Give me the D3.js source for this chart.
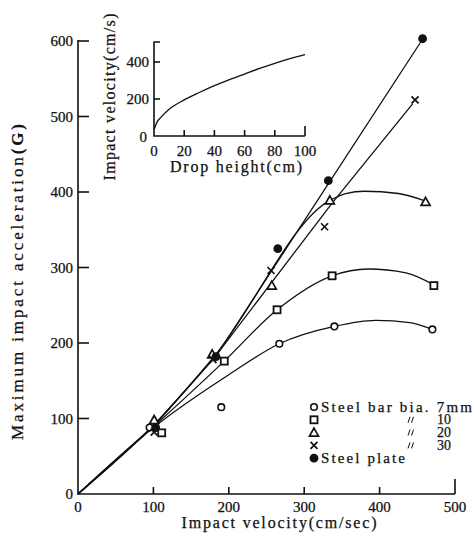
<!DOCTYPE html>
<html lang="en">
<head>
<meta charset="UTF-8">
<title>Maximum impact acceleration vs impact velocity</title>
<script src="https://d3js.org/d3.v7.min.js"></script>
<style>
    body { margin: 0; background: #fff; }
    svg text { font-family: "Liberation Serif", "DejaVu Serif", serif; fill: #111; stroke: #111; stroke-width: 0.25; }
    .axis-line { stroke: #111; stroke-width: 1.6; fill: none; }
    .fit { stroke: #111; stroke-width: 1.3; fill: none; }
</style>
</head>
<body>
<svg width="474" height="544"></svg>
<script>
    // main chart ticks
    const xTicks = [0, 100, 200, 300, 400, 500];
    const yTicks = [0, 100, 200, 300, 400, 500, 600];

    // measured points [velocity cm/s, acceleration G]
    const bar7 = [[95, 88], [190, 115], [267, 199], [340, 222], [470, 218]];
    const bar10 = [[111, 81], [194, 176], [264, 244], [337, 289], [472, 276]];
    const bar20 = [[101, 98], [178, 185], [257, 276], [334, 389], [461, 387]];
    const bar30 = [[101, 82], [179, 178], [256, 296], [327, 354], [447, 522]];
    const plate = [[103, 88], [183, 182], [265, 325], [332, 415], [457, 603]];

    // hand drawn fitting lines
    const fit7 = [[0, 0], [100, 88], [200, 158], [267, 199], [340, 222], [395, 230], [440, 227], [470, 218]];
    const fit10 = [[0, 0], [100, 89], [194, 176], [264, 244], [337, 289], [385, 298], [435, 293], [472, 277]];
    const fit20 = [[0, 0], [100, 91], [182, 184], [334, 389], [355, 398], [380, 401], [425, 398], [461, 388]];
    const fit30 = [[0, 0], [100, 90], [182, 182], [336, 384], [444, 517]];
    const fitPlate = [[0, 0], [100, 89], [184, 184], [458, 604]];

    // inset: drop height (cm) vs impact velocity (cm/s)
    const dropH = [0, 1, 2, 5, 10, 20, 30, 40, 50, 60, 70, 80, 90, 100];
    const dropV = [35, 55, 75, 105, 145, 195, 235, 272, 305, 335, 365, 393, 418, 440];
    const insetXTicks = [0, 20, 40, 60, 80, 100];
    const insetYTicks = [0, 200, 400];

    const legendRows = [
        { mark: "circle", label: "Steel bar bia. 7mm", num: "" },
        { mark: "square", label: "", num: "10" },
        { mark: "triangle", label: "", num: "20" },
        { mark: "cross", label: "", num: "30" },
        { mark: "dot", label: "Steel plate", num: "" }
    ];

    const svg = d3.select("svg");

    const x = d3.scaleLinear().domain([0, 500]).range([78, 455]);
    const y = d3.scaleLinear().domain([0, 600]).range([494, 41]);

    // axes (ticks point inward like the original)
    svg.append("path").attr("class", "axis-line")
        .attr("d", `M${x(0)},${y(600) - 1}V${y(0)}H${x(500)}`);

    svg.append("g").selectAll("line").data(yTicks.slice(1)).enter().append("line")
        .attr("class", "axis-line")
        .attr("x1", x(0)).attr("x2", x(0) + 11)
        .attr("y1", d => y(d)).attr("y2", d => y(d));

    svg.append("g").selectAll("line").data(xTicks.slice(1)).enter().append("line")
        .attr("class", "axis-line")
        .attr("x1", d => x(d)).attr("x2", d => x(d))
        .attr("y1", y(0)).attr("y2", d => d === 500 ? y(0) - 15 : y(0) - 7);

    svg.append("g").selectAll("text").data(yTicks).enter().append("text")
        .attr("x", x(0) - 5)
        .attr("y", d => y(d) + 5)
        .attr("text-anchor", "end")
        .style("font-size", "15px")
        .text(d => d);

    svg.append("g").selectAll("text").data(xTicks).enter().append("text")
        .attr("x", d => x(d))
        .attr("y", 512)
        .attr("text-anchor", "middle")
        .style("font-size", "15px")
        .text(d => d);

    svg.append("text")
        .attr("x", 279).attr("y", 528)
        .attr("text-anchor", "middle")
        .attr("textLength", 195).attr("lengthAdjust", "spacing")
        .style("font-size", "16px")
        .text("Impact velocity(cm/sec)");

    const yLab = svg.append("text")
        .attr("transform", "translate(23,282) rotate(-90)")
        .attr("text-anchor", "middle")
        .attr("textLength", 316).attr("lengthAdjust", "spacing")
        .style("font-size", "17px");
    yLab.append("tspan").text("Maximum impact acceleration");
    yLab.append("tspan").style("font-weight", "bold").text("(G)");

    // fitting curves
    const line = d3.line().x(d => x(d[0])).y(d => y(d[1]));
    const smooth = d3.line().x(d => x(d[0])).y(d => y(d[1])).curve(d3.curveMonotoneX);

    svg.append("path").attr("class", "fit").attr("d", smooth(fit7));
    svg.append("path").attr("class", "fit").attr("d", smooth(fit10));
    svg.append("path").attr("class", "fit").attr("d", smooth(fit20));
    svg.append("path").attr("class", "fit").attr("d", line(fit30));
    svg.append("path").attr("class", "fit").attr("d", line(fitPlate));

    // markers
    function drawMark(g, type, cx, cy) {
        if (type === "circle") {
            g.append("circle").attr("cx", cx).attr("cy", cy).attr("r", 3.3)
                .attr("fill", "#fff").attr("stroke", "#111").attr("stroke-width", 1.6);
        } else if (type === "square") {
            g.append("rect").attr("x", cx - 3.5).attr("y", cy - 3.5).attr("width", 7).attr("height", 7)
                .attr("fill", "#fff").attr("stroke", "#111").attr("stroke-width", 1.8);
        } else if (type === "triangle") {
            g.append("path").attr("d", `M${cx},${cy - 4.5}L${cx + 4.5},${cy + 3.5}L${cx - 4.5},${cy + 3.5}Z`)
                .attr("fill", "#fff").attr("stroke", "#111").attr("stroke-width", 1.7);
        } else if (type === "cross") {
            g.append("path").attr("d", `M${cx - 3.5},${cy - 3.5}L${cx + 3.5},${cy + 3.5}M${cx + 3.5},${cy - 3.5}L${cx - 3.5},${cy + 3.5}`)
                .attr("fill", "none").attr("stroke", "#111").attr("stroke-width", 1.7);
        } else {
            g.append("circle").attr("cx", cx).attr("cy", cy).attr("r", 4.4).attr("fill", "#111");
        }
    }

    const marks = svg.append("g");
    [[bar7, "circle"], [bar10, "square"], [bar20, "triangle"], [bar30, "cross"], [plate, "dot"]]
        .forEach(([pts, type]) => pts.forEach(p => drawMark(marks, type, x(p[0]), y(p[1]))));

    // legend
    const leg = svg.append("g");
    legendRows.forEach((r, i) => {
        const ly = 407 + i * 12.8;
        drawMark(leg, r.mark, 314, ly);
        if (r.num === "") {
            leg.append("text").attr("x", 321).attr("y", ly + 5)
                .attr("textLength", r.mark === "circle" ? 151 : 84).attr("lengthAdjust", "spacing")
                .style("font-size", "15px").text(r.label);
        } else {
            // ditto mark
            leg.append("path")
                .attr("d", `M${408},${ly + 3}L${410},${ly - 3}M${411.5},${ly + 3}L${413.5},${ly - 3}`)
                .attr("stroke", "#111").attr("stroke-width", 1);
            leg.append("text").attr("x", 437).attr("y", ly + 4.5)
                .style("font-size", "14px").text(r.num);
        }
    });

    // inset
    const ix = d3.scaleLinear().domain([0, 100]).range([154, 305]);
    const iy = d3.scaleLinear().domain([0, 400]).range([136, 62]);
    const inset = svg.append("g");

    inset.append("path").attr("class", "axis-line")
        .attr("d", `M${ix(0) + 6},${iy(508)}H${ix(0)}V${iy(0)}H${ix(100)}`);
    inset.selectAll(".yt").data(insetYTicks.slice(1)).enter().append("line")
        .attr("class", "axis-line")
        .attr("x1", ix(0)).attr("x2", ix(0) + 6)
        .attr("y1", d => iy(d)).attr("y2", d => iy(d));
    inset.selectAll(".xt").data(insetXTicks.slice(1)).enter().append("line")
        .attr("class", "axis-line")
        .attr("x1", d => ix(d)).attr("x2", d => ix(d))
        .attr("y1", iy(0)).attr("y2", d => d === 100 ? iy(0) - 10 : iy(0) - 6);

    inset.selectAll(".yl").data(insetYTicks).enter().append("text")
        .attr("x", d => d === 0 ? 147 : 149)
        .attr("y", d => d === 0 ? iy(d) + 6 : iy(d) + 5)
        .attr("text-anchor", "end")
        .style("font-size", "15px")
        .text(d => d);
    inset.selectAll(".xl").data(insetXTicks).enter().append("text")
        .attr("x", d => ix(d))
        .attr("y", 156)
        .attr("text-anchor", "middle")
        .style("font-size", "15px")
        .text(d => d);

    inset.append("text")
        .attr("x", 236).attr("y", 172)
        .attr("text-anchor", "middle")
        .attr("textLength", 132).attr("lengthAdjust", "spacing")
        .style("font-size", "16px")
        .text("Drop height(cm)");
    inset.append("text")
        .attr("transform", "translate(115,97) rotate(-90)")
        .attr("text-anchor", "middle")
        .attr("textLength", 167).attr("lengthAdjust", "spacing")
        .style("font-size", "16px")
        .text("Impact velocity(cm/s)");

    const insetLine = d3.line().x((d, i) => ix(dropH[i])).y(d => iy(d)).curve(d3.curveMonotoneX);
    inset.append("path").attr("class", "fit").attr("d", insetLine(dropV));
</script>
</body>
</html>
